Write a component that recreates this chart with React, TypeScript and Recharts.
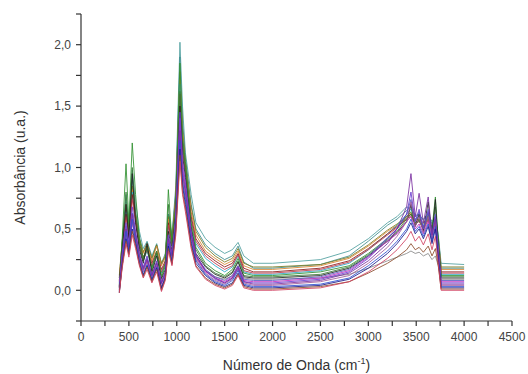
import React from "react";
import { LineChart, Line, XAxis, YAxis, Label } from "recharts";

// wavenumber grid (cm-1)
const waveNumbers = [400, 430, 470, 500, 535, 570, 610, 650, 690, 740, 790, 840, 880, 912, 950, 990, 1033, 1060, 1090, 1150, 1200, 1300, 1400, 1500, 1580, 1640, 1700, 1800, 2000, 2500, 2800, 3000, 3200, 3300, 3400, 3445, 3490, 3530, 3575, 3625, 3665, 3700, 3730, 3760, 4000];

// absorbance of a few representative spectra
const teal = [0.05, 0.38, 0.78, 0.52, 0.98, 0.72, 0.48, 0.34, 0.4, 0.28, 0.38, 0.22, 0.3, 0.62, 0.45, 0.85, 2.02, 1.5, 1.12, 0.78, 0.55, 0.42, 0.35, 0.3, 0.33, 0.39, 0.28, 0.22, 0.22, 0.25, 0.32, 0.42, 0.55, 0.6, 0.68, 0.66, 0.62, 0.6, 0.58, 0.62, 0.56, 0.6, 0.45, 0.22, 0.21];
const green = [0.02, 0.42, 1.03, 0.55, 1.2, 0.78, 0.42, 0.26, 0.36, 0.18, 0.32, 0.12, 0.22, 0.82, 0.4, 0.72, 1.85, 1.25, 1.05, 0.55, 0.35, 0.22, 0.16, 0.12, 0.17, 0.26, 0.14, 0.12, 0.12, 0.15, 0.2, 0.3, 0.42, 0.5, 0.6, 0.64, 0.55, 0.58, 0.5, 0.62, 0.5, 0.76, 0.4, 0.12, 0.12];
const purple = [0.0, 0.25, 0.5, 0.35, 0.62, 0.45, 0.28, 0.17, 0.25, 0.12, 0.22, 0.06, 0.14, 0.42, 0.28, 0.55, 1.3, 0.95, 0.8, 0.45, 0.28, 0.16, 0.1, 0.06, 0.1, 0.18, 0.07, 0.05, 0.05, 0.08, 0.14, 0.24, 0.38, 0.5, 0.68, 0.95, 0.6, 0.79, 0.55, 0.76, 0.45, 0.58, 0.3, 0.05, 0.05];
const navy = [-0.01, 0.2, 0.42, 0.3, 0.5, 0.38, 0.22, 0.12, 0.2, 0.08, 0.18, 0.02, 0.1, 0.36, 0.22, 0.5, 1.15, 0.85, 0.7, 0.38, 0.22, 0.12, 0.06, 0.03, 0.06, 0.14, 0.04, 0.02, 0.02, 0.04, 0.09, 0.18, 0.3, 0.38, 0.48, 0.55, 0.46, 0.5, 0.42, 0.52, 0.38, 0.5, 0.25, 0.02, 0.02];
const magenta = [0.03, 0.28, 0.45, 0.33, 0.55, 0.42, 0.26, 0.16, 0.24, 0.11, 0.2, 0.06, 0.13, 0.4, 0.26, 0.58, 1.4, 1.0, 0.85, 0.46, 0.27, 0.15, 0.1, 0.07, 0.11, 0.19, 0.08, 0.07, 0.07, 0.1, 0.16, 0.27, 0.4, 0.46, 0.56, 0.6, 0.5, 0.54, 0.46, 0.56, 0.42, 0.52, 0.32, 0.07, 0.07];
const darkRed = [0.08, 0.35, 0.62, 0.45, 0.78, 0.58, 0.38, 0.27, 0.34, 0.22, 0.32, 0.17, 0.24, 0.55, 0.38, 0.7, 1.6, 1.2, 0.98, 0.6, 0.42, 0.3, 0.24, 0.19, 0.22, 0.3, 0.18, 0.15, 0.15, 0.18, 0.24, 0.34, 0.46, 0.52, 0.58, 0.62, 0.55, 0.57, 0.52, 0.58, 0.48, 0.55, 0.38, 0.15, 0.15];
const orange = [0.1, 0.38, 0.66, 0.48, 0.82, 0.6, 0.4, 0.3, 0.37, 0.24, 0.36, 0.2, 0.27, 0.58, 0.4, 0.75, 1.72, 1.28, 1.02, 0.64, 0.45, 0.32, 0.26, 0.21, 0.24, 0.32, 0.2, 0.17, 0.17, 0.2, 0.26, 0.36, 0.48, 0.53, 0.6, 0.63, 0.57, 0.58, 0.54, 0.6, 0.5, 0.57, 0.4, 0.17, 0.17];
const black = [0.04, 0.32, 0.7, 0.42, 0.95, 0.55, 0.33, 0.22, 0.38, 0.14, 0.28, 0.09, 0.17, 0.48, 0.32, 0.62, 1.5, 1.1, 0.92, 0.5, 0.3, 0.19, 0.13, 0.1, 0.14, 0.23, 0.11, 0.1, 0.1, 0.12, 0.18, 0.28, 0.4, 0.47, 0.56, 0.7, 0.52, 0.62, 0.48, 0.72, 0.45, 0.74, 0.35, 0.1, 0.1];
const blue = [-0.02, 0.22, 0.48, 0.32, 0.58, 0.4, 0.24, 0.13, 0.21, 0.09, 0.19, 0.01, 0.11, 0.38, 0.24, 0.52, 1.22, 0.88, 0.74, 0.4, 0.24, 0.13, 0.07, 0.04, 0.08, 0.16, 0.05, 0.03, 0.03, 0.05, 0.1, 0.2, 0.32, 0.4, 0.5, 0.58, 0.48, 0.52, 0.44, 0.54, 0.4, 0.52, 0.27, 0.03, 0.03];
const olive = [0.12, 0.4, 0.7, 0.5, 0.85, 0.62, 0.42, 0.31, 0.38, 0.26, 0.37, 0.22, 0.28, 0.6, 0.42, 0.78, 1.78, 1.32, 1.05, 0.68, 0.48, 0.35, 0.28, 0.23, 0.26, 0.34, 0.22, 0.19, 0.19, 0.21, 0.27, 0.37, 0.49, 0.54, 0.6, 0.62, 0.57, 0.58, 0.55, 0.6, 0.5, 0.56, 0.42, 0.19, 0.19];
const gray = [0.03, 0.26, 0.5, 0.36, 0.6, 0.44, 0.27, 0.18, 0.26, 0.13, 0.23, 0.08, 0.15, 0.44, 0.28, 0.56, 1.25, 0.92, 0.8, 0.44, 0.26, 0.16, 0.11, 0.09, 0.12, 0.2, 0.1, 0.09, 0.09, 0.1, 0.13, 0.18, 0.24, 0.27, 0.3, 0.32, 0.3, 0.31, 0.28, 0.3, 0.25, 0.28, 0.2, 0.09, 0.09];
const violet = [0.01, 0.3, 0.55, 0.38, 0.68, 0.48, 0.3, 0.19, 0.28, 0.12, 0.24, 0.05, 0.15, 0.45, 0.3, 0.6, 1.45, 1.05, 0.88, 0.48, 0.29, 0.16, 0.09, 0.06, 0.1, 0.19, 0.07, 0.06, 0.06, 0.09, 0.15, 0.26, 0.42, 0.5, 0.62, 0.8, 0.56, 0.66, 0.5, 0.64, 0.44, 0.6, 0.32, 0.06, 0.06];
const cyan = [0.06, 0.34, 0.64, 0.44, 0.8, 0.56, 0.36, 0.24, 0.32, 0.19, 0.3, 0.14, 0.22, 0.52, 0.36, 0.68, 1.68, 1.22, 1.0, 0.58, 0.38, 0.26, 0.2, 0.15, 0.19, 0.28, 0.15, 0.13, 0.13, 0.16, 0.22, 0.33, 0.46, 0.53, 0.62, 0.66, 0.58, 0.6, 0.53, 0.6, 0.5, 0.58, 0.4, 0.13, 0.13];
const red = [-0.02, 0.18, 0.38, 0.27, 0.45, 0.34, 0.2, 0.1, 0.17, 0.06, 0.15, -0.01, 0.08, 0.32, 0.2, 0.45, 1.05, 0.78, 0.64, 0.34, 0.19, 0.09, 0.04, 0.01, 0.04, 0.12, 0.02, 0.0, 0.0, 0.02, 0.07, 0.15, 0.26, 0.33, 0.42, 0.48, 0.4, 0.44, 0.37, 0.46, 0.33, 0.44, 0.22, 0.0, 0.0];
const darkGreen = [0.03, 0.36, 0.8, 0.48, 1.0, 0.62, 0.36, 0.24, 0.34, 0.16, 0.3, 0.1, 0.2, 0.7, 0.36, 0.66, 1.62, 1.18, 1.0, 0.52, 0.33, 0.2, 0.14, 0.11, 0.15, 0.24, 0.12, 0.11, 0.11, 0.13, 0.19, 0.29, 0.41, 0.48, 0.58, 0.62, 0.53, 0.57, 0.49, 0.6, 0.47, 0.68, 0.37, 0.11, 0.11];
const mauve = [0.0, 0.24, 0.46, 0.33, 0.56, 0.41, 0.25, 0.15, 0.23, 0.1, 0.2, 0.03, 0.12, 0.39, 0.25, 0.53, 1.25, 0.9, 0.76, 0.42, 0.25, 0.14, 0.08, 0.05, 0.09, 0.17, 0.06, 0.04, 0.04, 0.07, 0.12, 0.22, 0.35, 0.44, 0.56, 0.72, 0.52, 0.6, 0.47, 0.6, 0.42, 0.56, 0.3, 0.04, 0.04];
const slate = [0.02, 0.29, 0.52, 0.37, 0.63, 0.46, 0.28, 0.18, 0.26, 0.12, 0.22, 0.07, 0.14, 0.42, 0.28, 0.57, 1.35, 0.98, 0.83, 0.46, 0.28, 0.17, 0.11, 0.08, 0.12, 0.2, 0.09, 0.08, 0.08, 0.11, 0.17, 0.28, 0.43, 0.5, 0.62, 0.74, 0.56, 0.64, 0.5, 0.66, 0.46, 0.62, 0.34, 0.08, 0.08];
const crimson = [0.07, 0.33, 0.6, 0.43, 0.74, 0.55, 0.36, 0.25, 0.33, 0.2, 0.31, 0.15, 0.23, 0.53, 0.37, 0.69, 1.55, 1.16, 0.96, 0.58, 0.4, 0.28, 0.22, 0.17, 0.2, 0.29, 0.16, 0.14, 0.14, 0.17, 0.23, 0.33, 0.45, 0.51, 0.58, 0.6, 0.54, 0.56, 0.5, 0.57, 0.47, 0.54, 0.37, 0.14, 0.14];
const seaGreen = [0.1, 0.39, 0.72, 0.5, 0.9, 0.64, 0.43, 0.31, 0.39, 0.26, 0.37, 0.21, 0.28, 0.62, 0.43, 0.8, 1.9, 1.38, 1.08, 0.7, 0.5, 0.37, 0.3, 0.25, 0.28, 0.36, 0.23, 0.18, 0.18, 0.21, 0.28, 0.4, 0.53, 0.58, 0.65, 0.68, 0.6, 0.62, 0.57, 0.63, 0.54, 0.6, 0.44, 0.18, 0.18];
const brown = [-0.02, 0.2, 0.4, 0.29, 0.48, 0.36, 0.21, 0.11, 0.19, 0.07, 0.17, 0.0, 0.09, 0.34, 0.21, 0.48, 1.1, 0.8, 0.67, 0.36, 0.2, 0.1, 0.05, 0.02, 0.05, 0.13, 0.03, 0.01, 0.01, 0.03, 0.07, 0.14, 0.22, 0.27, 0.33, 0.38, 0.33, 0.35, 0.31, 0.36, 0.28, 0.34, 0.2, 0.01, 0.01];

const xTicks = [0, 250, 500, 750, 1000, 1250, 1500, 1750, 2000, 2250, 2500, 2750, 3000, 3250, 3500, 3750, 4000, 4250, 4500];
const yTicks = [-0.25, 0, 0.25, 0.5, 0.75, 1, 1.25, 1.5, 1.75, 2, 2.25];

const spectra = [
  { key: "teal", values: teal, color: "#4f9f9f" },
  { key: "seaGreen", values: seaGreen, color: "#3c8c8c" },
  { key: "olive", values: olive, color: "#7a7a20" },
  { key: "orange", values: orange, color: "#d9822b" },
  { key: "cyan", values: cyan, color: "#2aa8c8" },
  { key: "darkRed", values: darkRed, color: "#8b1a1a" },
  { key: "crimson", values: crimson, color: "#c03a4a" },
  { key: "darkGreen", values: darkGreen, color: "#3a7a3a" },
  { key: "green", values: green, color: "#2f8f2f" },
  { key: "black", values: black, color: "#222222" },
  { key: "gray", values: gray, color: "#888888" },
  { key: "slate", values: slate, color: "#5a5ac0" },
  { key: "magenta", values: magenta, color: "#c02cc0" },
  { key: "violet", values: violet, color: "#6a3cd0" },
  { key: "mauve", values: mauve, color: "#a05a9a" },
  { key: "purple", values: purple, color: "#7a2fa0" },
  { key: "blue", values: blue, color: "#2b4fd0" },
  { key: "navy", values: navy, color: "#1a1a8a" },
  { key: "brown", values: brown, color: "#8a4a2a" },
  { key: "red", values: red, color: "#d04060" },
];

const data = waveNumbers.map((w, i) => {
  const row: any = { w };
  spectra.forEach(s => { row[s.key] = s.values[i]; });
  return row;
});

const font = "'Liberation Sans', Arial, sans-serif";

const XLabel = (props: any) => {
  const { viewBox } = props;
  const cx = viewBox.x + viewBox.width / 2;
  return (
    <text x={cx} y={370} textAnchor="middle" fontSize={14} fill="#333" fontFamily={font}>
      Número de Onda (cm
      <tspan dy={-6} fontSize={9}>-1</tspan>
      <tspan dy={6}>)</tspan>
    </text>
  );
};

const YLabel = (props: any) => {
  const { viewBox } = props;
  const cy = viewBox.y + viewBox.height / 2;
  return (
    <text x={20} y={cy} transform={`rotate(-90 20 ${cy})`} textAnchor="middle" dominantBaseline="central" fontSize={14} fill="#333" fontFamily={font}>
      Absorbância (u.a.)
    </text>
  );
};

export default function App() {
  return (
    <div style={{ position: "absolute", left: 0, top: 0, background: "#fff" }}>
      <LineChart width={528} height={374} data={data} margin={{ top: 14, right: 16, bottom: 0, left: 0 }}>
        <XAxis
          dataKey="w" type="number" domain={[0, 4500]} ticks={xTicks} interval={0}
          height={53} tickSize={5} tickMargin={6}
          stroke="#333" strokeWidth={1.2}
          tick={{ fontSize: 12, fill: "#444", fontFamily: font }}
          tickFormatter={(v: number) => (v % 500 === 0 ? String(v) : "")}
        >
          <Label content={<XLabel />} />
        </XAxis>
        <YAxis
          type="number" domain={[-0.25, 2.25]} ticks={yTicks} interval={0}
          width={81} tickSize={5} tickMargin={5} allowDataOverflow
          stroke="#333" strokeWidth={1.2}
          tick={{ fontSize: 12, fill: "#444", fontFamily: font }}
          tickFormatter={(v: number) => (Math.abs(v * 2 - Math.round(v * 2)) < 1e-9 ? v.toFixed(1).replace(".", ",") : "")}
        >
          <Label content={<YLabel />} />
        </YAxis>
        {spectra.map(s => (
          <Line key={s.key} dataKey={s.key} type="linear" stroke={s.color} strokeWidth={1} strokeOpacity={0.85} dot={false} isAnimationActive={false} />
        ))}
      </LineChart>
    </div>
  );
}
